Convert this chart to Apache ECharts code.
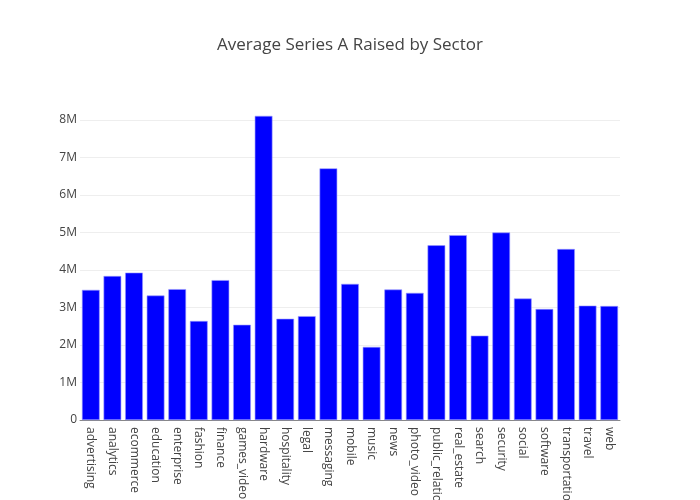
<!DOCTYPE html>
<html>
<head>
<meta charset="utf-8">
<script src="https://cdn.jsdelivr.net/npm/echarts@6/dist/echarts.min.js"></script>
<style>html,body{margin:0;padding:0;background:#fff}#c{width:700px;height:500px}</style>
</head>
<body>
<div id="c"></div>
<script>
const categories = ["advertising","analytics","ecommerce","education","enterprise","fashion","finance","games_video","hardware","hospitality","legal","messaging","mobile","music","news","photo_video","public_relations","real_estate","search","security","social","software","transportation","travel","web"];
const seriesA = [3.47e6,3.84e6,3.93e6,3.32e6,3.49e6,2.64e6,3.73e6,2.54e6,8.11e6,2.70e6,2.77e6,6.71e6,3.63e6,1.95e6,3.48e6,3.39e6,4.66e6,4.93e6,2.25e6,5.00e6,3.24e6,2.96e6,4.56e6,3.05e6,3.04e6];
const yTicks = [0,1e6,2e6,3e6,4e6,5e6,6e6,7e6,8e6];

const font = '"Open Sans", "Noto Sans", sans-serif';
const chart = echarts.init(document.getElementById('c'), null, {renderer:'canvas'});
chart.setOption({
  animation: false,
  title: {
    text: 'Average Series A Raised by Sector',
    left: 'center', top: 32,
    textStyle: {fontFamily: font, fontSize: 17, fontWeight: 'normal', color: '#444'}
  },
  grid: [
    {left: 80, right: 80, top: 100, bottom: 80, containLabel: false, outerBoundsMode: 'none'},
    {left: 80, right: 80, top: 120, bottom: 80, containLabel: false, outerBoundsMode: 'none'}
  ],
  xAxis: [
    {
      type: 'category', data: categories, gridIndex: 0,
      axisLine: {show: true, lineStyle: {color: '#888', width: 1}},
      axisTick: {show: false},
      axisLabel: {rotate: -90, interval: 0, margin: 7, color: '#444', fontFamily: font, fontSize: 12}
    },
    {type: 'category', data: categories, gridIndex: 1, show: false}
  ],
  yAxis: [
    {type: 'value', gridIndex: 0, min: 0, max: 8533333, show: false, splitLine: {show: false}},
    {
      type: 'value', gridIndex: 1, min: 0, max: yTicks[yTicks.length-1], interval: 1e6,
      axisLine: {show: false}, axisTick: {show: false},
      splitLine: {show: true, lineStyle: {color: '#eeeeee', width: 1}},
      axisLabel: {color: '#444', fontFamily: font, fontSize: 12, margin: 3, padding: [4, 0, 0, 0],
        formatter: v => v === 0 ? '0' : (v/1e6) + 'M'}
    }
  ],
  series: [{
    type: 'bar', xAxisIndex: 0, yAxisIndex: 0, data: seriesA, z: 3,
    barCategoryGap: '18%',
    itemStyle: {color: '#0000ff', borderColor: '#9999ff', borderWidth: 0.6}
  }]
});
</script>
</body>
</html>
